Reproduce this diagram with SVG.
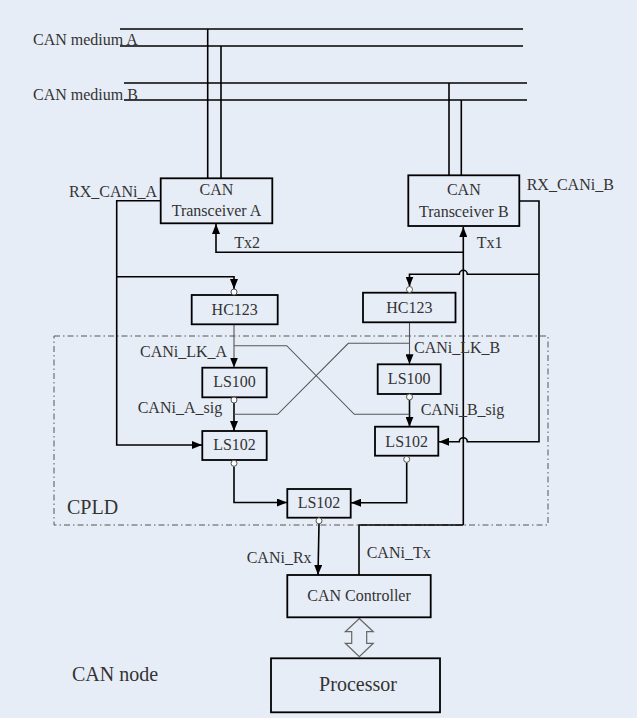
<svg xmlns="http://www.w3.org/2000/svg" width="637" height="718" viewBox="0 0 637 718" font-family="'Liberation Serif', 'DejaVu Serif', serif">
<style>
text{font-family:'Liberation Serif','DejaVu Serif',serif;font-size:16px;fill:#333}
.c{text-anchor:middle}
.big{font-size:20px}
.box{fill:none;stroke:#000;stroke-width:1.8}
.w{fill:none;stroke:#000;stroke-width:1.6}
.g{fill:none;stroke:#555;stroke-width:1.1}
.inv{fill:#fff;stroke:#555;stroke-width:1}
</style>
<defs>
<marker id="ah" viewBox="0 0 10 8" refX="10" refY="4" markerWidth="10" markerHeight="8" markerUnits="userSpaceOnUse" orient="auto">
<path d="M0,0 L10,4 L0,8 z" fill="#000"/>
</marker>
</defs>
<rect width="637" height="718" fill="#e7edf7"/>

<g id="buses">
<line class="w" x1="120" y1="29" x2="523" y2="29"/>
<line class="w" x1="120" y1="46" x2="523" y2="46"/>
<line class="w" x1="124" y1="83" x2="527" y2="83"/>
<line class="w" x1="124" y1="100" x2="527" y2="100"/>
<text x="33" y="45">CAN medium A</text>
<text x="33" y="100">CAN medium B</text>
</g>

<g id="cpld">
<rect x="54" y="336" width="494" height="189" fill="none" stroke="#555" stroke-width="1" stroke-dasharray="6,3,1.5,3"/>
<text class="big" x="67" y="514">CPLD</text>
</g>

<g id="connectors">
<line class="w" x1="207.7" y1="29" x2="207.7" y2="178"/>
<line class="w" x1="221" y1="46" x2="221" y2="178"/>
<line class="w" x1="449" y1="83" x2="449" y2="175"/>
<line class="w" x1="461.3" y1="100" x2="461.3" y2="175"/>
<path class="w" d="M463.3,252.3 H216 V224" marker-end="url(#ah)"/>
<path class="w" d="M463.3,525 V227" marker-end="url(#ah)"/>
<path class="w" d="M161,200.7 H116.7 V445 H202" marker-end="url(#ah)"/>
<path class="w" d="M116.7,276.7 H234 V289" marker-end="url(#ah)"/>
<path class="w" d="M519,201 H539 V441.7 H467.3 A4,4 0 0 0 459.3,441.7 H439" marker-end="url(#ah)"/>
<path class="w" d="M539,274.3 H467.3 A4,4 0 0 0 459.3,274.3 H409.5 V286.5" marker-end="url(#ah)"/>
<path class="g" d="M234,324 V367.5" marker-end="url(#ah)"/>
<path class="w" d="M234,403 V431" marker-end="url(#ah)"/>
<path class="g" d="M409.5,322.5 V364.3" marker-end="url(#ah)"/>
<path class="w" d="M409.5,400 V426.7" marker-end="url(#ah)"/>
<path class="g" d="M234,345.7 H286.7 L354.3,414.3 H409.5"/>
<path class="g" d="M234,414.3 H277.7 L348.3,343.3 H409.5"/>
<path class="w" d="M234,466.5 V502.5 H287" marker-end="url(#ah)"/>
<path class="w" d="M406.7,462.5 V502.7 H351" marker-end="url(#ah)"/>
<path class="w" d="M319,524 L318,575" marker-end="url(#ah)"/>
<path class="w" d="M463.3,525 H359 V575"/>
<path d="M359.3,618.5 L373.3,631.7 H366.7 V643.3 H373.3 L359.3,656.7 L345.3,643.3 H351.7 V631.7 H345.3 Z" fill="#e7edf7" stroke="#666" stroke-width="1.2"/>
</g>

<g id="transceiverA">
<rect class="box" x="160.7" y="178.3" width="111.6" height="45"/>
<text class="c" x="216.5" y="195">CAN</text>
<text class="c" x="216.5" y="216">Transceiver A</text>
</g>
<g id="transceiverB">
<rect class="box" x="408.3" y="175.3" width="111" height="50.7"/>
<text class="c" x="463.8" y="195">CAN</text>
<text class="c" x="463.8" y="216.5">Transceiver B</text>
</g>

<g id="hc123A">
<rect class="box" x="191.7" y="295" width="86" height="29.3"/>
<circle class="inv" cx="234" cy="292" r="3"/>
<text class="c" x="234.7" y="315">HC123</text>
</g>
<g id="hc123B">
<rect class="box" x="363" y="292.7" width="92.5" height="29.6"/>
<circle class="inv" cx="409.5" cy="289.5" r="3"/>
<text class="c" x="409.3" y="312.5">HC123</text>
</g>

<g id="ls100A">
<rect class="box" x="202.3" y="367.7" width="64.4" height="29.6"/>
<circle class="inv" cx="234" cy="400" r="3"/>
<text class="c" x="234.5" y="387.3">LS100</text>
</g>
<g id="ls100B">
<rect class="box" x="377.7" y="364.3" width="63" height="29.7"/>
<circle class="inv" cx="409.5" cy="397" r="3"/>
<text class="c" x="409.2" y="384.3">LS100</text>
</g>

<g id="ls102A">
<rect class="box" x="202.3" y="431" width="64.4" height="29"/>
<circle class="inv" cx="234" cy="463.3" r="3"/>
<text class="c" x="234.5" y="450">LS102</text>
</g>
<g id="ls102B">
<rect class="box" x="375" y="426.7" width="63.3" height="29"/>
<circle class="inv" cx="406.7" cy="459.3" r="3"/>
<text class="c" x="406.7" y="446.7">LS102</text>
</g>
<g id="ls102C">
<rect class="box" x="287.3" y="489" width="63.4" height="28.7"/>
<circle class="inv" cx="319" cy="520.8" r="3"/>
<text class="c" x="319" y="507.7">LS102</text>
</g>

<g id="canController">
<rect class="box" x="287.3" y="575" width="143.4" height="42.3"/>
<text class="c" x="359" y="600.7">CAN Controller</text>
</g>
<g id="processor">
<rect class="box" x="271" y="658.3" width="169" height="54"/>
<text class="c big" x="358" y="691">Processor</text>
</g>

<g id="labels">
<text x="69" y="196.7">RX_CANi_A</text>
<text x="526.7" y="190">RX_CANi_B</text>
<text x="234.3" y="248">Tx2</text>
<text x="476.7" y="248">Tx1</text>
<text x="140" y="357.3">CANi_LK_A</text>
<text x="414" y="352.7">CANi_LK_B</text>
<text x="137.7" y="413.3">CANi_A_sig</text>
<text x="420.7" y="415">CANi_B_sig</text>
<text x="246.7" y="562.7">CANi_Rx</text>
<text x="366.7" y="558.3">CANi_Tx</text>
<text class="big" x="72" y="681">CAN node</text>
</g>
</svg>
